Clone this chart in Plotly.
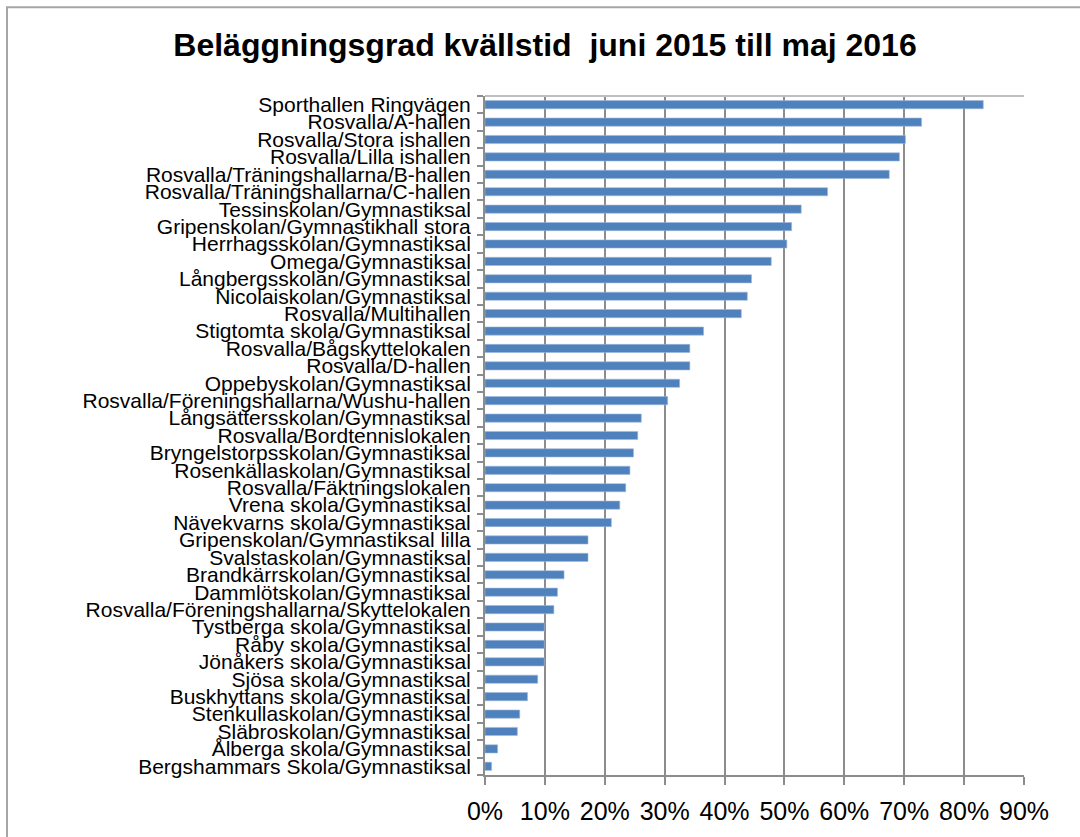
import plotly.graph_objects as go

categories = [
    "Sporthallen Ringvägen",
    "Rosvalla/A-hallen",
    "Rosvalla/Stora ishallen",
    "Rosvalla/Lilla ishallen",
    "Rosvalla/Träningshallarna/B-hallen",
    "Rosvalla/Träningshallarna/C-hallen",
    "Tessinskolan/Gymnastiksal",
    "Gripenskolan/Gymnastikhall stora",
    "Herrhagsskolan/Gymnastiksal",
    "Omega/Gymnastiksal",
    "Långbergsskolan/Gymnastiksal",
    "Nicolaiskolan/Gymnastiksal",
    "Rosvalla/Multihallen",
    "Stigtomta skola/Gymnastiksal",
    "Rosvalla/Bågskyttelokalen",
    "Rosvalla/D-hallen",
    "Oppebyskolan/Gymnastiksal",
    "Rosvalla/Föreningshallarna/Wushu-hallen",
    "Långsättersskolan/Gymnastiksal",
    "Rosvalla/Bordtennislokalen",
    "Bryngelstorpsskolan/Gymnastiksal",
    "Rosenkällaskolan/Gymnastiksal",
    "Rosvalla/Fäktningslokalen",
    "Vrena skola/Gymnastiksal",
    "Nävekvarns skola/Gymnastiksal",
    "Gripenskolan/Gymnastiksal lilla",
    "Svalstaskolan/Gymnastiksal",
    "Brandkärrskolan/Gymnastiksal",
    "Dammlötskolan/Gymnastiksal",
    "Rosvalla/Föreningshallarna/Skyttelokalen",
    "Tystberga skola/Gymnastiksal",
    "Råby skola/Gymnastiksal",
    "Jönåkers skola/Gymnastiksal",
    "Sjösa skola/Gymnastiksal",
    "Buskhyttans skola/Gymnastiksal",
    "Stenkullaskolan/Gymnastiksal",
    "Släbroskolan/Gymnastiksal",
    "Ålberga skola/Gymnastiksal",
    "Bergshammars Skola/Gymnastiksal",
]

occupancy = [
    0.832, 0.729, 0.702, 0.692, 0.675, 0.572, 0.528, 0.512, 0.504, 0.478,
    0.445, 0.438, 0.428, 0.365, 0.342, 0.342, 0.325, 0.305, 0.261, 0.255,
    0.248, 0.242, 0.235, 0.225, 0.211, 0.172, 0.172, 0.132, 0.121, 0.115,
    0.099, 0.099, 0.099, 0.088, 0.071, 0.058, 0.054, 0.021, 0.011,
]

x_ticks = [0, 0.1, 0.2, 0.3, 0.4, 0.5, 0.6, 0.7, 0.8, 0.9]
x_tick_labels = ["0%", "10%", "20%", "30%", "40%", "50%", "60%", "70%", "80%", "90%"]

title_text = "Beläggningsgrad kvällstid  juni 2015 till maj 2016"

BAR = "#4F81BD"
GRID = "#8C8C8C"

fig = go.Figure(
    go.Bar(
        x=occupancy,
        y=categories,
        orientation="h",
        marker=dict(color=BAR, line=dict(color="#9DB9DD", width=0.6)),
        width=0.47,
    )
)

W, H = 1080, 837
L, R, T, B = 485, 56, 96, 60
pw, ph = W - L - R, H - T - B

def px_x(px):
    return (px - L) / pw

def px_y(py):
    return (H - B - py) / ph

fig.update_layout(
    width=W,
    height=H,
    margin=dict(l=L, r=R, t=T, b=B, pad=0),
    paper_bgcolor="white",
    plot_bgcolor="white",
    showlegend=False,
    title=dict(
        text="<b>" + title_text + "</b>",
        x=545 / W,
        xanchor="center",
        y=1 - 45 / H,
        yanchor="middle",
        xref="container",
        yref="container",
        font=dict(family="Liberation Sans, Arial, sans-serif", size=32, color="black"),
    ),
    font=dict(family="Liberation Sans, Arial, sans-serif", color="black"),
    xaxis=dict(
        range=[0, 0.9],
        tickvals=x_ticks,
        ticktext=x_tick_labels,
        showgrid=True,
        gridcolor=GRID,
        gridwidth=2,
        showline=True,
        linecolor=GRID,
        linewidth=2,
        ticks="outside",
        ticklen=8,
        tickwidth=2,
        tickcolor=GRID,
        tickfont=dict(size=25, color="black"),
        ticklabelstandoff=5,
        zeroline=False,
        fixedrange=True,
    ),
    yaxis=dict(
        categoryorder="array",
        categoryarray=categories[::-1],
        autorange=False,
        range=[-0.5, len(categories) - 0.5],
        tickmode="linear",
        tick0=0,
        dtick=1,
        showgrid=False,
        showline=True,
        linecolor=GRID,
        linewidth=2,
        ticks="outside",
        tickson="boundaries",
        ticklen=6,
        tickwidth=2,
        tickcolor=GRID,
        tickfont=dict(size=21, color="black"),
        ticklabelstandoff=8,
        zeroline=False,
        fixedrange=True,
    ),
    shapes=[
        dict(
            type="line", xref="paper", yref="paper",
            x0=0, x1=1, y0=1, y1=1,
            line=dict(color="#BFBFBF", width=2),
        ),
        dict(
            type="rect", xref="paper", yref="paper",
            x0=px_x(7), x1=px_x(1090), y0=px_y(850), y1=px_y(7),
            line=dict(color="#A6A6A6", width=2),
            fillcolor="rgba(0,0,0,0)",
            layer="below",
        ),
    ],
)

fig.write_html(
    "out.html",
    config={"displayModeBar": False},
    post_script="document.body.style.margin='0';document.body.style.overflow='hidden';",
)
